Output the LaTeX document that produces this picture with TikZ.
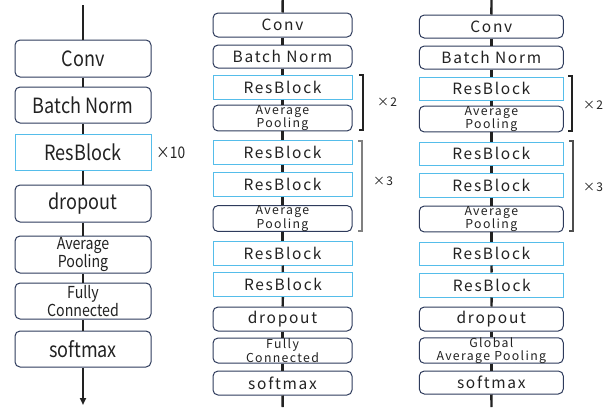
\documentclass[tikz,border=0pt]{standalone}
\usepackage{fontspec}
\setmainfont{Noto Sans CJK JP}
\newfontfamily\jpc[FakeStretch=0.86]{Noto Sans CJK JP}
\newfontfamily\jpw[LetterSpace=11]{Noto Sans CJK JP}
\usetikzlibrary{arrows.meta}
\definecolor{navy}{HTML}{2E3B5C}
\definecolor{sky}{HTML}{55BDEA}
\definecolor{ink}{HTML}{222222}
\begin{document}
\begin{tikzpicture}[x=1pt,y=-1pt,
  box/.style={draw=navy,line width=1pt,rounded corners=5pt,fill=white,inner sep=0pt,align=center,text=ink},
  rbox/.style={draw=sky,line width=1pt,fill=white,inner sep=0pt,align=center,text=ink},
  lcol/.style={minimum width=136pt},
  mcol/.style={minimum width=139pt,minimum height=24pt},
  rcol/.style={minimum width=144pt,minimum height=24pt},
  big/.style={font=\jpc\fontsize{21}{21}\selectfont},
  lsmall/.style={font=\jpc\fontsize{16.5}{18.5}\selectfont},
  mbig/.style={font=\jpw\fontsize{15.5}{16}\selectfont},
  msmall/.style={font=\jpw\fontsize{12.3}{12.6}\selectfont},
  conn/.style={draw=ink,line width=2.4pt},
  lconn/.style={draw=ink,line width=1.8pt},
  brk/.style={line width=1.1pt},
  lab/.style={text=ink,inner sep=0pt}]
\useasboundingbox (0,0) rectangle (610,407);
% left column
\coordinate (lt) at (83,5);
\coordinate (lb) at (83,405);
\node[box,lcol,big,minimum height=37pt] (l1) at (83,58.5) {Conv};
\node[box,lcol,big,minimum height=36pt] (l2) at (83,105) {Batch Norm};
\node[rbox,lcol,big,minimum height=36pt] (l3) at (83,152) {ResBlock};
\node[box,lcol,big,minimum height=37pt] (l4) at (83,203.5) {dropout};
\node[box,lcol,lsmall,minimum height=37pt] (l5) at (83,254.5) {Average\\Pooling};
\node[box,lcol,lsmall,minimum height=36pt] (l6) at (83,301) {Fully\\Connected};
\node[box,lcol,big,minimum height=36pt] (l7) at (83,349) {softmax};
\draw[lconn] (lt) -- (l1);
\draw[lconn] (l1) -- (l2);
\draw[lconn] (l2) -- (l3);
\draw[lconn] (l3) -- (l4);
\draw[lconn] (l4) -- (l5);
\draw[lconn] (l5) -- (l6);
\draw[lconn] (l6) -- (l7);
\draw[lconn,-{Triangle[length=7pt,width=6pt]}] (l7) -- (lb);
\node[lab,font=\jpc\fontsize{16}{16}\selectfont,anchor=west] (x10) at (156,153) {×10};
% middle column
\coordinate (mt) at (282.7,0);
\coordinate (mb) at (282.7,407);
\node[box,mcol,mbig] (m1) at (282.5,25) {Conv};
\node[box,mcol,mbig,minimum height=23pt] (m2) at (282.5,56.5) {Batch Norm};
\node[rbox,mcol,mbig] (m3) at (282.5,87) {ResBlock};
\node[box,mcol,msmall] (m4) at (282.5,118) {Average\\Pooling};
\node[rbox,mcol,mbig] (m5) at (282.5,152) {ResBlock};
\node[rbox,mcol,mbig] (m6) at (282.5,184) {ResBlock};
\node[box,mcol,msmall,minimum height=25pt] (m7) at (282.5,218.5) {Average\\Pooling};
\node[rbox,mcol,mbig] (m8) at (282.5,253) {ResBlock};
\node[rbox,mcol,mbig] (m9) at (283,284.5) {ResBlock};
\node[box,mcol,mbig] (m10) at (282.5,319) {dropout};
\node[box,mcol,msmall,minimum height=25pt] (m11) at (282.5,350.5) {Fully\\Connected};
\node[box,mcol,mbig] (m12) at (282.5,383) {softmax};
\draw[conn] (mt) -- (m1);
\foreach \a/\b in {m1/m2,m2/m3,m3/m4,m4/m5,m5/m6,m6/m7,m7/m8,m8/m9,m9/m10,m10/m11,m11/m12}
  \draw[conn] (\a) -- (\b);
\draw[conn] (m12) -- (mb);
\draw[brk,draw=ink] (359,75) -- (363,75) -- (363,130) -- (359,130);
\draw[brk,draw=gray] (358,141) -- (362,141) -- (362,231) -- (358,231);
\node[lab,font=\jpw\fontsize{12}{12}\selectfont] (mx2) at (387,102) {×2};
\node[lab,font=\jpw\fontsize{12}{12}\selectfont] (mx3) at (383,181) {×3};
% right column
\coordinate (rt) at (491.5,0);
\coordinate (rb) at (491.5,407);
\node[box,rcol,mbig,minimum height=23pt] (r1) at (491.3,26.5) {Conv};
\node[box,rcol,mbig,minimum height=23pt] (r2) at (491.3,57.5) {Batch Norm};
\node[rbox,rcol,mbig,minimum height=23pt] (r3) at (491.3,88.5) {ResBlock};
\node[box,rcol,msmall] (r4) at (491.3,119) {Average\\Pooling};
\node[rbox,rcol,mbig,minimum height=23pt] (r5) at (491.3,153.5) {ResBlock};
\node[rbox,rcol,mbig] (r6) at (491.3,185) {ResBlock};
\node[box,rcol,msmall] (r7) at (491.3,219) {Average\\Pooling};
\node[rbox,rcol,mbig,minimum height=23pt] (r8) at (491.3,253.5) {ResBlock};
\node[rbox,rcol,mbig] (r9) at (491.8,285) {ResBlock};
\node[box,rcol,mbig] (r10) at (491.3,319) {dropout};
\node[box,rcol,msmall,minimum height=25pt] (r11) at (491.3,350.5) {Global\\Average Pooling};
\node[box,rcol,mbig,minimum height=23pt] (r12) at (491.3,382.5) {softmax};
\draw[conn] (rt) -- (r1);
\foreach \a/\b in {r1/r2,r2/r3,r3/r4,r4/r5,r5/r6,r6/r7,r7/r8,r8/r9,r9/r10,r10/r11,r11/r12}
  \draw[conn] (\a) -- (\b);
\draw[conn] (r12) -- (rb);
\draw[brk,draw=ink] (568,76) -- (572,76) -- (572,131) -- (568,131);
\draw[brk,draw=ink!80] (569,141) -- (573,141) -- (573,231) -- (569,231);
\node[lab,font=\jpw\fontsize{12}{12}\selectfont] (rx2) at (593,105) {×2};
\node[lab,font=\jpw\fontsize{12}{12}\selectfont] (rx3) at (593,187) {×3};
\end{tikzpicture}
\end{document}
